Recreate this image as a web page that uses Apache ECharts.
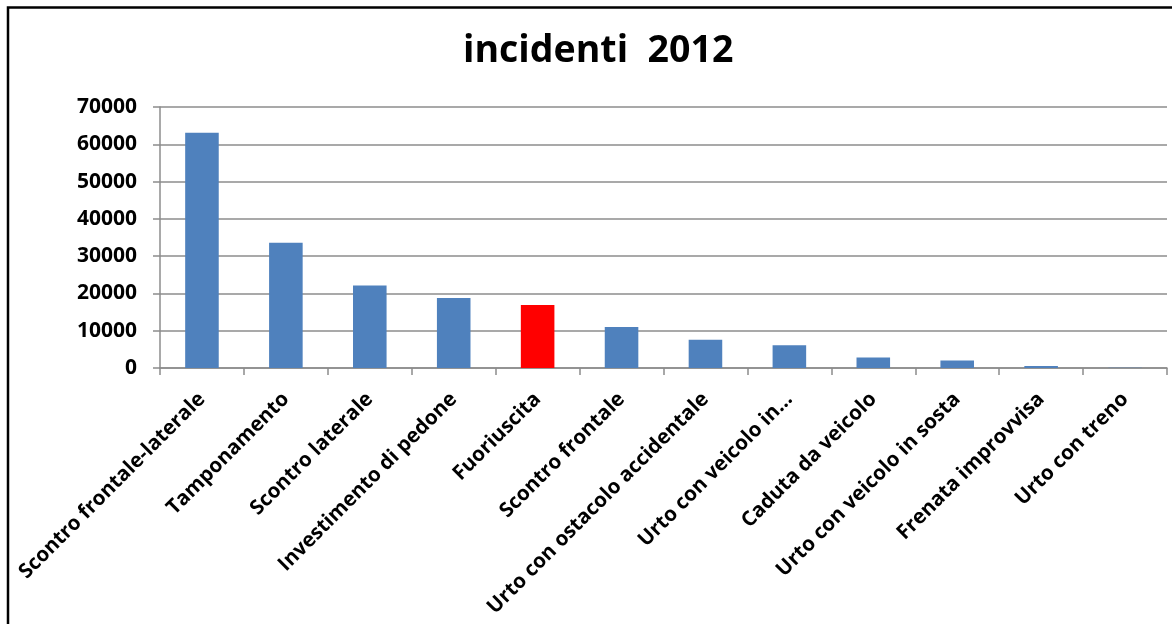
<!DOCTYPE html>
<html>
<head>
<meta charset="utf-8">
<script src="https://cdn.jsdelivr.net/npm/echarts@6/dist/echarts.min.js"></script>
<style>
html,body{margin:0;padding:0;background:#fff;}
#chart{width:1172px;height:624px;}
</style>
</head>
<body>
<div id="chart"></div>
<script>
var categories = [
  "Scontro frontale-laterale",
  "Tamponamento",
  "Scontro laterale",
  "Investimento di pedone",
  "Fuoriuscita",
  "Scontro frontale",
  "Urto con ostacolo accidentale",
  "Urto con veicolo in…",
  "Caduta da veicolo",
  "Urto con veicolo in sosta",
  "Frenata improvvisa",
  "Urto con treno"
];
var values = [63100, 33600, 22100, 18800, 16900, 11000, 7600, 6100, 2800, 2000, 550, 40];
var highlightIndex = 4;
var yTicks = [0, 10000, 20000, 30000, 40000, 50000, 60000, 70000];

var blue = '#4F81BD', red = '#FF0000', gray = '#8C8C8C';
var fontFam = '"Open Sans", "DejaVu Sans", sans-serif';

var chart = echarts.init(document.getElementById('chart'), null, {renderer: 'canvas'});
chart.setOption({
  backgroundColor: '#ffffff',
  animation: false,
  title: {
    text: 'incidenti  2012',
    left: 458,
    top: 27,
    textStyle: {fontFamily: fontFam, fontWeight: 'bold', fontSize: 37.5, color: '#000'}
  },
  graphic: [{
    type: 'polyline',
    shape: {points: [[8, 630], [8, 7.5], [1172, 7.5]]},
    style: {stroke: '#000', lineWidth: 2.5, fill: null}
  }],
  grid: {left: 160, right: 5, top: 107, bottom: 256, containLabel: false},
  xAxis: {
    type: 'category',
    data: categories,
    axisLine: {show: true, lineStyle: {color: gray, width: 1.5}},
    axisTick: {show: true, length: 7, alignWithLabel: false, lineStyle: {color: gray, width: 1.5}},
    axisLabel: {
      interval: 0, rotate: 45, margin: 28,
      fontFamily: fontFam, fontWeight: 'bold', fontSize: 20.5, color: '#000'
    }
  },
  yAxis: {
    type: 'value',
    min: yTicks[0], max: yTicks[yTicks.length - 1], interval: 10000,
    axisLine: {show: true, lineStyle: {color: gray, width: 1.5}},
    axisTick: {show: true, length: 7, lineStyle: {color: gray, width: 1.5}},
    splitLine: {show: true, lineStyle: {color: gray, width: 1.5}},
    axisLabel: {
      margin: 23,
      formatter: function (v) { return String(v); },
      fontFamily: fontFam, fontWeight: 'bold', fontSize: 21, color: '#000'
    }
  },
  series: [{
    type: 'bar',
    barWidth: '40%',
    data: values.map(function (v, i) {
      return {value: v, itemStyle: {color: i === highlightIndex ? red : blue}};
    })
  }]
});
</script>
</body>
</html>
